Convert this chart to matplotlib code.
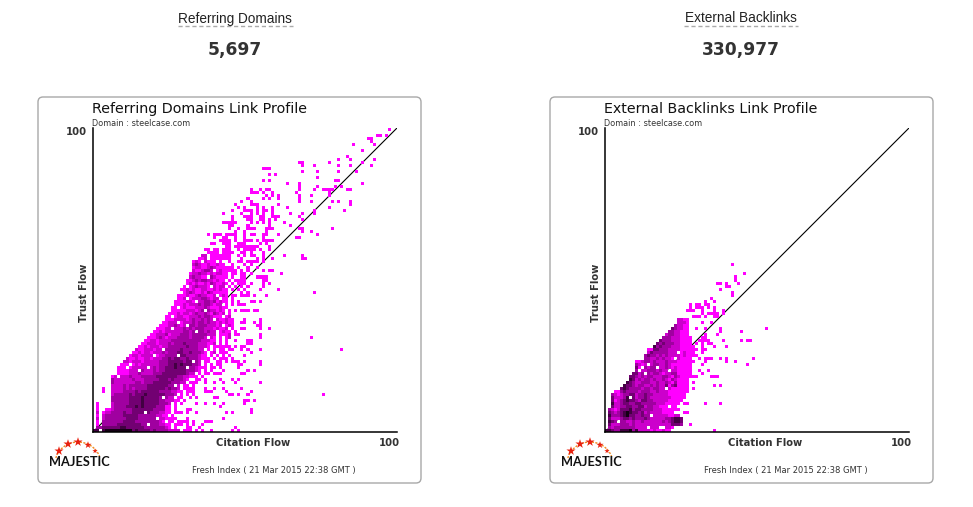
import numpy as np
import matplotlib
matplotlib.use('Agg')
import matplotlib.pyplot as plt
from matplotlib.colors import ListedColormap
from matplotlib.patches import FancyBboxPatch, Arc

panel_titles = ['Referring Domains Link Profile', 'External Backlinks Link Profile']
head_labels = ['Referring Domains', 'External Backlinks']
head_values = ['5,697', '330,977']
domain_text = 'Domain : steelcase.com'
index_text = 'Fresh Index ( 21 Mar 2015 22:38 GMT )'
levels = ['none', '#ff00ff', '#cc00cc', '#a000a0', '#720072', '#420042', '#140014']

# (trust flow, first citation flow, density levels read along the row)
left_dense = [
    (58, 36, "22.1.1"), (57, 35, "1.2.1.1"), (56, 33, "121.2111."), (55, 33, "232112.12"),
    (54, 33, "12211232111"), (53, 33, "2112332.121"), (52, 32, "12232212122"),
    (51, 32, "232211.32111"), (50, 31, "1123233221211"), (49, 31, "1212112132112"),
    (48, 30, "1.1232221.2122"), (47, 29, "1121211221121211"), (46, 29, "1123211213211.11"),
    (45, 28, "1112112322112.121"), (44, 28, "11211222332122.11.1"), (43, 27, "111122112233231211.1"),
    (42, 27, "1112122232332122.1.1"), (41, 26, "11.1211122232111211"), (40, 26, "111112221232322121.1"),
    (39, 25, "1112122123223213212.1"), (38, 24, "11.1221122232332111.12"), (37, 24, "111222212322323212112.1"),
    (36, 23, "1122221222323323221212.1"), (35, 22, "111223212233233322212.121"), (34, 21, "111222222323233322212112.1"),
    (33, 20, "112122222233233332322.1211"), (32, 19, "1122231222333233333222.1112"), (31, 18, "11123212223333233332221.1.12"),
    (30, 17, "112212222333333333322211.1.1"), (29, 16, "1122212223233343333222112.1.1"), (28, 15, "112122212233333343332221.11.1."),
    (27, 14, "21122212223333343333322.1.1.1"), (26, 13, "1121221222323334433433321.12.1"), (25, 12, "12212222212233334443333211.1.1."),
    (24, 11, "2112112212223343443343332111.1.1"), (23, 10, "22122212222233344444344332.11..1"), (22, 9, "11111212222223334454544433211.1.1"),
    (21, 8, "1112122222223233444544443321.1..1"), (20, 8, "1111222232223233444444433321.1.1"), (19, 8, "11112223222233344444444322.1.11"),
    (18, 6, "12222232223333344444443322111.1"), (17, 6, "322222232223333344434333211.11"), (16, 6, "3222222233233344444433322.1.1"),
    (15, 6, "22223233333344444443332.11.1"), (14, 3, "1..22223232333344444434332.11.1"), (13, 3, "1..222233334344444433332211.1"),
    (12, 6, "2333334344454444443332.1.1.1"), (11, 6, "333333444454444433322.11..1"), (10, 6, "33333344445444443322211.1"),
    (9, 1, "1....2333334444544444333211.1"), (8, 1, "1....23333444545444433311.1"), (7, 1, "1..1123333334444444333311.1"),
    (6, 1, "2.12233334334444443332211.1"), (5, 1, "1.2333333444443333332211.1"), (4, 1, "2.23333333444433333332211"),
    (3, 1, "1.3333333444433333333211.1"), (2, 1, "1.33333444444443333332211.1"), (1, 0, ".3344444455444444333333321.1"),
    (0, 0, "55.56666666664544443433332222.1.1.1"),
]
# (trust flow, citation flow list) for the scattered single cells
left_sparse = [
    (100, [98]), (98, [94, 95, 97]), (97, [91, 92]), (96, [92]), (95, [86, 93]), (93, [89]), (91, [84]), (90, [81, 85, 93]),
    (89, [68, 69, 78, 89]), (88, [69, 73, 81, 85, 92]), (87, [56, 57, 58]), (86, [69, 74, 81, 87]), (85, [58, 60]), (84, [74]),
    (83, [56, 58, 80, 81]), (82, [64, 68, 89]), (81, [68, 74, 80, 82]), (80, [52, 55, 57, 58, 68, 73, 76, 77, 78, 79, 84, 85]),
    (79, [52, 53, 54, 56, 59, 67, 78]), (78, [57, 59, 61, 68, 72, 78]), (77, [51, 56, 58, 61, 68]), (76, [49, 52, 68, 72, 79, 81, 85]),
    (75, [47, 52, 53, 54, 61, 85]), (74, [48, 50, 54, 56, 59, 64, 78]), (73, [46, 50, 51, 52, 54, 56, 57, 59, 73, 83]),
    (72, [43, 49, 52, 54, 56, 59, 65, 69, 73]), (71, [46, 50, 51, 52, 55, 56, 59, 60, 61, 68]), (70, [46, 51, 52, 55, 56, 58, 60, 69]),
    (69, [43, 44, 45, 46, 47, 52, 54, 56, 58, 63]), (68, [45, 46, 51, 58, 65]), (67, [45, 48, 51, 52, 53, 57, 58, 59, 68, 69, 79]),
    (66, [47, 50, 57, 69, 72]), (65, [38, 40, 41, 42, 44, 45, 46, 47, 50, 52, 53, 56, 57, 61, 74]), (64, [40, 43, 44, 47, 50, 56, 67, 68]),
    (63, [42, 43, 44, 45, 47, 50, 51, 52, 54, 56, 57, 58, 59]), (62, [39, 40, 43, 44, 45, 48, 49, 50, 55, 57]),
    (61, [44, 45, 47, 48, 49, 50, 51, 52, 53, 54, 58]), (60, [37, 38, 40, 41, 43, 44, 45, 48, 50, 51, 52, 53, 55, 58]),
    (59, [38, 39, 40, 41, 43, 44, 45, 46, 49, 50, 52, 56]), (58, [40, 42, 43, 44, 45, 48, 50, 52, 53, 56, 63, 69]),
    (57, [36, 37, 39, 40, 42, 43, 44, 45, 49, 54, 56, 59, 69, 70]), (56, [37, 40, 42, 45, 48, 49, 51, 52, 53, 54, 56]),
    (55, [37, 38, 39, 40, 42, 43, 46, 50, 52]), (54, [41, 42, 43, 44, 45, 46, 48, 51, 54]), (53, [42, 44, 45, 46, 47, 49, 51, 56, 58, 59]),
    (52, [43, 44, 46, 47, 49, 50, 52, 62]), (51, [42, 44, 46, 49, 50, 54, 55, 56, 57]), (50, [43, 45, 47, 48, 49, 50, 56, 57]),
    (49, [44, 46, 48, 49, 50, 52, 56, 58]), (48, [43, 45, 47, 49, 51, 56]), (47, [44, 46, 48, 50, 55, 61]),
    (46, [42, 43, 49, 51, 73]), (45, [44, 46, 47, 49, 50, 51, 53, 57]), (43, [43, 46, 48, 52, 53, 55]), (42, [42, 44, 48, 49, 50]),
    (40, [43, 47, 49, 50, 51, 53, 54]), (37, [42, 45, 46, 50, 55]), (36, [42, 45, 49, 50, 53, 55]), (35, [45, 54, 55]),
    (34, [42, 44, 49, 50, 55, 58]), (33, [44, 45, 47]), (32, [42, 44, 45, 47, 48, 55]), (31, [44, 55, 72]), (30, [42, 44, 47, 51, 52]),
    (29, [51, 52]), (28, [42, 43, 44, 45, 47, 49, 50]), (27, [42, 43, 45, 46, 49, 51, 55, 82]), (26, [42, 43, 44, 52]), (25, [43, 45, 50]),
    (24, [43, 44, 46]), (23, [42, 44, 46, 47, 48, 50, 55]), (22, [42, 48, 49, 55]), (21, [36, 39, 42, 48]), (20, [43, 51, 53]),
    (19, [40, 41, 42, 49, 50]), (17, [37, 42, 46, 48]), (16, [33, 37, 40, 43, 47, 55]), (14, [32, 37, 40, 43, 49]),
    (13, [31, 32, 33, 37, 38, 39, 44, 52]), (12, [45, 46, 48, 51, 76]), (11, [34, 40, 41]), (10, [50, 51, 53]),
    (9, [34, 37, 40, 43, 50]), (8, [42]), (7, [31, 32, 52]), (6, [28, 29, 31, 34, 44, 46, 52]), (4, [25, 26, 27, 31, 43]),
    (3, [25, 26, 28, 29, 30, 31, 33, 37, 38, 39]), (2, [28, 29, 31, 33, 36]), (1, [27, 31, 32, 35, 47]), (0, [31, 36, 39, 46, 48]),
]
# white cells inside the dense part
left_gaps = [
    (46, 29), (44, 31), (43, 34), (40, 37), (37, 40), (36, 28), (35, 31), (33, 34), (34, 26), (31, 38), (27, 23), (25, 28), (23, 33),
    (21, 31), (22, 36), (21, 18), (20, 15), (15, 27), (17, 32), (6, 17), (11, 23), (9, 26), (9, 30), (4, 21), (3, 24), (2, 18),
    (22, 12), (18, 8), (21, 11), (25, 20),
]

right_dense = [
    (37, 24, "2211"), (36, 24, "2221"), (35, 23, "32211"), (34, 22, "432211"), (33, 21, "3322111"), (32, 20, "23322111"),
    (31, 19, "3332221111"), (30, 18, "43332221111"), (29, 17, "434333221111"), (28, 16, "5343332221111"), (27, 14, "114433322221111"),
    (26, 14, "243333322221211"), (25, 13, "3433232322221211"), (24, 13, "3322323221.21111"), (23, 10, "1123323222322211111"),
    (22, 10, "3212323322321111111"), (21, 10, "41.3233.22321211111"), (20, 10, "3.223332322.2211111"), (19, 9, "44232323321223311111"),
    (18, 8, "443232332223321321111"), (17, 8, "54232332322321321111"), (16, 7, "543223332232232131111"), (15, 6, "5443233223232241341111"),
    (14, 5, "45433332332332222111111"), (13, 3, "1134333323332232221111111"), (12, 2, "3212334423343322222111111"),
    (11, 2, "4222354423343222222211111"), (10, 2, "412345443244332222211111"), (9, 2, "52234433443333322211111"),
    (8, 2, "4223344334423322111.11"), (7, 1, "321244453443333222111111"), (6, 1, "4323456544342322221111"),
    (5, 1, "533345644334333222221122"), (4, 1, "4222344343334322222334554"), (3, 1, "5433332232232222223234554"),
    (2, 1, "4222333232222222222224443"), (1, 1, "3233333332222.22211221"), (0, 0, "5543355563522221211211"),
]
right_sparse = [
    (55, [42]), (52, [46]), (51, [43]), (50, [43]), (49, [37, 38, 40, 44]), (48, [40, 41]), (47, [38]), (46, [42]), (45, [42]),
    (44, [35]), (43, [33, 36]), (42, [28, 30, 31, 33, 34]), (41, [28, 30, 31, 32, 34, 36]), (40, [27, 28, 29, 32, 36, 39]),
    (39, [32, 34, 35, 36, 37, 39]), (38, [29, 30, 31, 33, 36, 37]), (36, [32, 35]), (34, [30, 33, 38, 53]), (33, [38, 45]), (32, [33, 37]),
    (31, [32, 33]), (30, [31, 32, 33, 34, 39, 45, 47, 48]), (29, [30, 32, 34, 35]), (28, [29, 32, 36, 40]), (27, [29, 30, 32, 33]),
    (26, [29, 32]), (25, [29, 30]), (24, [31, 33, 34, 35, 38, 40, 49]), (23, [29, 33, 40, 43]), (22, [32, 47]), (20, [31, 34]),
    (19, [32]), (18, [29, 30, 35, 36, 37]), (16, [29]), (15, [36, 38]), (14, [29]), (9, [26, 27, 33, 38]), (6, [26, 27]), (2, [28]), (0, [36]),
]
right_gaps = [(22, 14), (19, 13), (14, 20), (5, 15), (1, 18), (1, 19), (26, 24), (11, 8), (3, 4)]

def make_grid(dense, sparse, gaps):
    grid = np.zeros((101, 101), dtype=int)
    for tf, cols in sparse:
        grid[tf, cols] = 1
    for tf, start, cells in dense:
        for i, c in enumerate(cells):
            if c != '.':
                grid[tf, start + i] = int(c)
    for tf, cf in gaps:
        grid[tf, cf] = 0
    return grid

W, H = 973, 507
fig = plt.figure(figsize=(W / 100, H / 100), dpi=100)
bg = fig.add_axes([0, 0, 1, 1])
bg.set_xlim(0, W)
bg.set_ylim(H, 0)
bg.axis('off')
cmap = ListedColormap(levels)
dark = '#333333'

grids = [make_grid(left_dense, left_sparse, left_gaps), make_grid(right_dense, right_sparse, right_gaps)]
for i, dx in enumerate([0, 512]):
    # page heading above each panel
    cx = [235, 741][i]
    bg.text(cx, 18.5, head_labels[i], ha='center', va='center', fontsize=9.8,
            family='Liberation Sans', color='#222222')
    half = [57.5, 57][i]
    bg.plot([cx - half, cx + half], [26, 26], color='#aaaaaa', lw=1, ls=(0, (3, 2)))
    bg.text(cx, 50.5, head_values[i], ha='center', va='center', fontsize=12.3,
            fontweight='bold', color=dark)

    bg.add_patch(FancyBboxPatch((38 + dx, 97), 383, 386, boxstyle='round,pad=0,rounding_size=5',
                                fc='white', ec='#a8a8a8', lw=1))
    bg.text(92 + dx, 109, panel_titles[i], ha='left', va='center', fontsize=10.3, color='#111111')
    bg.text(92 + dx, 124, domain_text, ha='left', va='center', fontsize=5.9, color=dark)
    bg.text(87 + dx, 132, '100', ha='right', va='center', fontsize=7.3, fontweight='bold', color=dark)
    bg.text(84 + dx, 293, 'Trust Flow', ha='center', va='center', rotation=90, fontsize=7.2,
            fontweight='bold', color=dark)
    bg.text(253 + dx, 442.5, 'Citation Flow', ha='center', va='center', fontsize=7.2,
            fontweight='bold', color=dark)
    bg.text(389 + dx, 442.5, '100', ha='center', va='center', fontsize=7.3, fontweight='bold', color=dark)
    bg.text(274 + dx, 471, index_text, ha='center', va='center', fontsize=6, color=dark)

    # logo
    bg.add_patch(Arc((78 + dx, 464), 46, 44, theta1=195, theta2=340, color='#f28c1e', lw=1, ls=(0, (1.5, 1))))
    bg.scatter(np.array([59, 68, 78, 88, 95]) + dx, [451, 444, 442, 445, 451], marker='*',
               s=[48, 48, 48, 30, 16], color='#e8200f', zorder=3, linewidths=0)
    bg.text(79 + dx, 462, 'MAJESTIC', ha='center', va='center', fontsize=9.2, fontweight='bold',
            family='Lato', color='#111111')

    ax = fig.add_axes([(93 + dx) / W, 1 - 432 / H, 304 / W, 304 / H])
    ax.plot([0, 101], [0, 101], color='black', lw=0.8, zorder=1)
    ax.imshow(grids[i], origin='lower', extent=[0, 101, 0, 101], cmap=cmap, vmin=-0.5, vmax=6.5,
              interpolation='nearest', aspect='auto', zorder=2)
    ax.set_xlim(0, 101)
    ax.set_ylim(0, 101)
    ax.set_xticks([])
    ax.set_yticks([])
    ax.patch.set_alpha(0)
    ax.spines['top'].set_visible(False)
    ax.spines['right'].set_visible(False)
    ax.spines['left'].set_linewidth(1.1)
    ax.spines['bottom'].set_linewidth(1.1)

fig.savefig('out.png', dpi=100)
